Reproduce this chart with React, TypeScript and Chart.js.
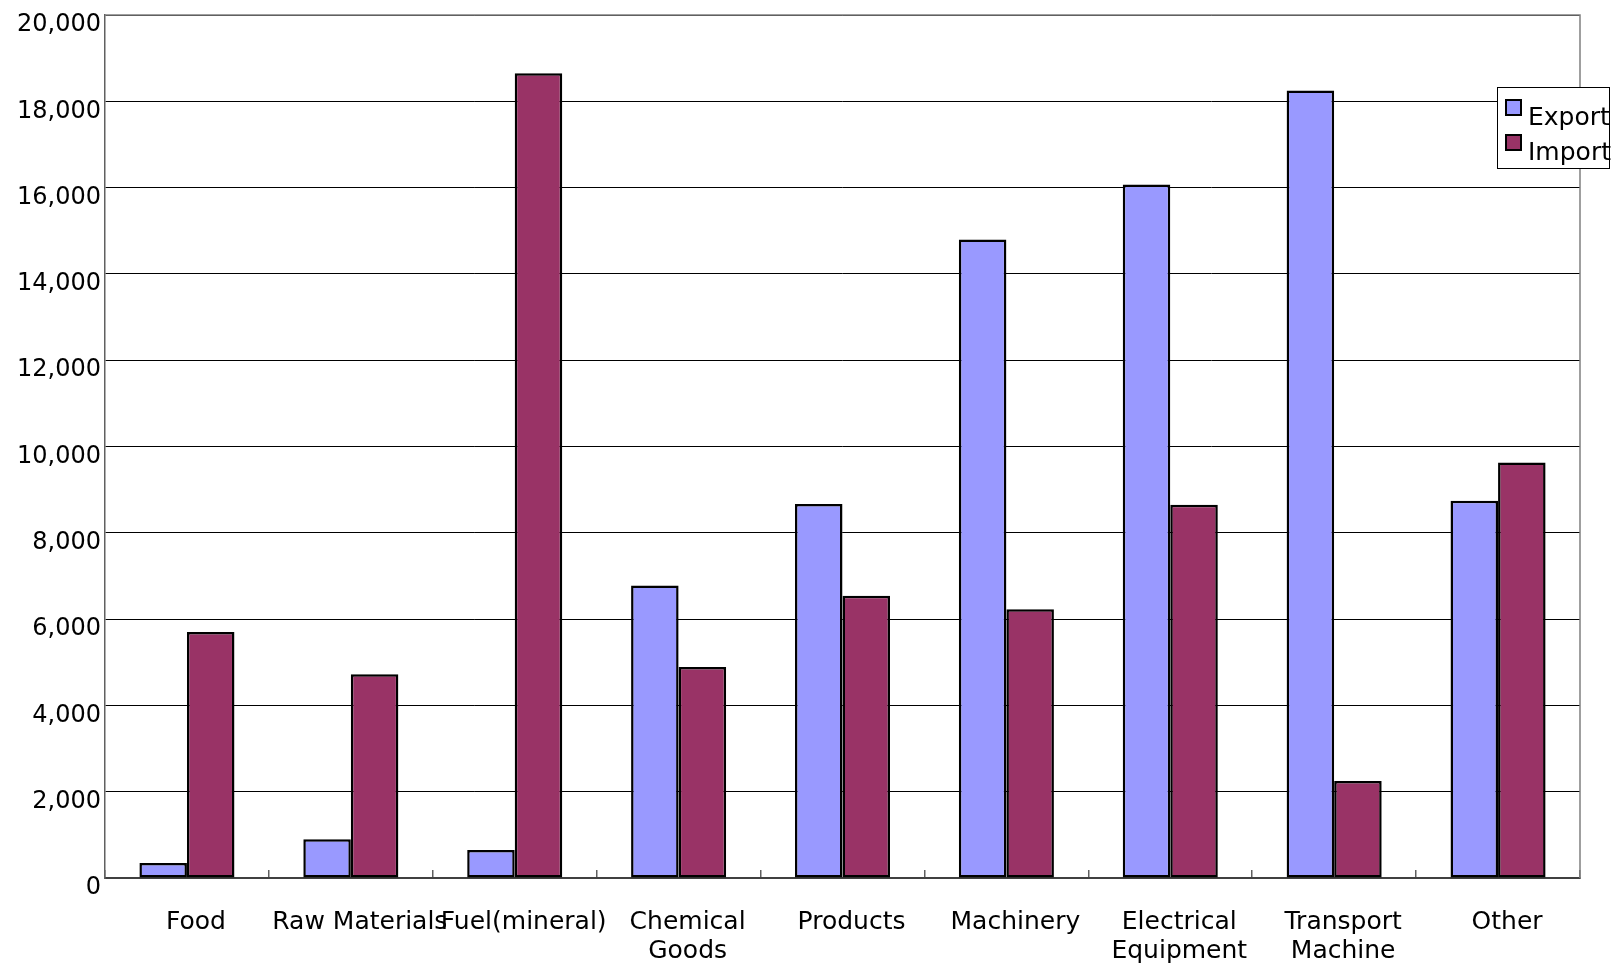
import React, { useEffect, useRef } from "react";
import { Chart, registerables } from "chart.js";

Chart.register(...registerables);

const categories: string[][] = [
  ["Food"],
  ["Raw Materials"],
  ["Fuel(mineral)"],
  ["Chemical", "Goods"],
  ["Products"],
  ["Machinery"],
  ["Electrical", "Equipment"],
  ["Transport", "Machine"],
  ["Other"],
];
const seriesNames = ["Export", "Import"];
const exportValues = [350, 900, 650, 6780, 8670, 14800, 16070, 18250, 8740];
const importValues = [5700, 4720, 18650, 4890, 6540, 6230, 8650, 2250, 9630];
const yMin = 0;
const yMax = 20000;
const yStep = 2000;

const FONT = "'DejaVu Sans', sans-serif";

const frameAndLegend = {
  id: "frameAndLegend",
  afterDraw(chart: any) {
    const ctx = chart.ctx;
    const a = chart.chartArea;
    ctx.save();
    // plot frame (top and right)
    ctx.strokeStyle = "#808080";
    ctx.lineWidth = 1.5;
    ctx.beginPath();
    ctx.moveTo(a.left, a.top);
    ctx.lineTo(a.right, a.top);
    ctx.lineTo(a.right, a.bottom);
    ctx.stroke();
    // legend
    const bx = a.right - 83;
    const by = a.top + 72;
    const bw = 112;
    const bh = 81;
    ctx.fillStyle = "#ffffff";
    ctx.fillRect(bx, by, bw, bh);
    ctx.strokeStyle = "#000000";
    ctx.lineWidth = 1;
    ctx.strokeRect(bx + 0.5, by + 0.5, bw, bh);
    chart.data.datasets.forEach((ds: any, i: number) => {
      const rowY = by + 13 + i * 35;
      ctx.fillStyle = ds.backgroundColor;
      ctx.fillRect(bx + 9, rowY, 15, 15);
      ctx.strokeStyle = "#000";
      ctx.lineWidth = 2;
      ctx.strokeRect(bx + 9, rowY, 15, 15);
      ctx.fillStyle = "#000";
      ctx.font = `25px ${FONT}`;
      ctx.textBaseline = "alphabetic";
      ctx.textAlign = "left";
      ctx.fillText(ds.label, bx + 31, rowY + 25);
    });
    ctx.restore();
  },
};

export default function App() {
  const ref = useRef<HTMLCanvasElement>(null);

  useEffect(() => {
    if (!ref.current) return;
    const chart = new Chart(ref.current, {
      type: "bar",
      data: {
        labels: categories,
        datasets: [
          {
            label: seriesNames[0],
            data: exportValues,
            backgroundColor: "#9999FF",
            borderColor: "#000000",
            borderWidth: 2.5,
            borderSkipped: false,
          },
          {
            label: seriesNames[1],
            data: importValues,
            backgroundColor: "#993366",
            borderColor: "#000000",
            borderWidth: 2.5,
            borderSkipped: false,
          },
        ],
      },
      options: {
        responsive: false,
        animation: false,
        maintainAspectRatio: false,
        devicePixelRatio: 1,
        layout: { padding: { left: 0, top: 15, right: 38, bottom: 0 } },
        datasets: {
          bar: { categoryPercentage: 0.58, barPercentage: 1.0 },
        },
        plugins: {
          legend: { display: false },
          tooltip: { enabled: false },
          title: { display: false },
        },
        scales: {
          x: {
            offset: true,
            grid: {
              display: true,
              offset: true,
              drawOnChartArea: false,
              drawTicks: true,
              tickLength: -8,
              color: "#606060",
              lineWidth: 1.5,
            },
            border: { display: true, color: "#404040", width: 2 },
            ticks: {
              autoSkip: false,
              maxRotation: 0,
              minRotation: 0,
              padding: 38,
              labelOffset: 9,
              color: "#000",
              font: { family: FONT, size: 25, lineHeight: 1.15 },
            },
            afterFit: (scale: any) => {
              scale.height = 90;
            },
          },
          y: {
            min: yMin,
            max: yMax,
            grid: {
              color: "#000000",
              lineWidth: 1,
              drawTicks: false,
            },
            border: { display: true, color: "#606060", width: 1.5 },
            ticks: {
              stepSize: yStep,
              padding: 4,
              labelOffset: 10,
              color: "#000",
              font: { family: FONT, size: 24, lineHeight: 0.7 },
              callback: (v: any) => Number(v).toLocaleString("en-US"),
            },
            afterFit: (scale: any) => {
              scale.width = 105;
            },
          },
        },
      },
      plugins: [frameAndLegend],
    });
    return () => chart.destroy();
  }, []);

  return (
    <div style={{ position: "absolute", left: 0, top: 0, width: 1618, height: 968, background: "#fff" }}>
      <canvas ref={ref} width={1618} height={968} style={{ width: 1618, height: 968, display: "block" }} />
    </div>
  );
}
